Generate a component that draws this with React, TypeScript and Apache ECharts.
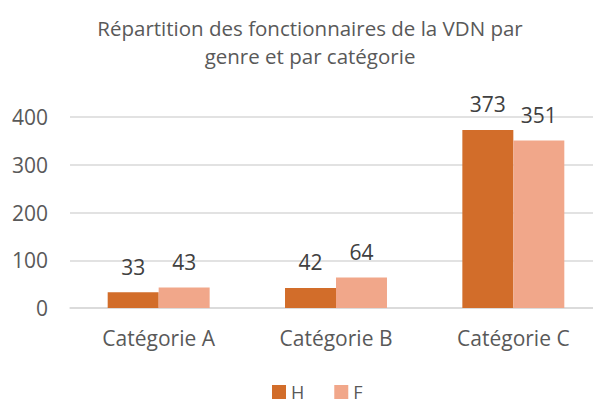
import React, { useEffect, useRef } from "react";
import * as echarts from "echarts";

const categories = ["Catégorie A", "Catégorie B", "Catégorie C"];
const seriesH = [33, 42, 373];
const seriesF = [43, 64, 351];
const titleText = "Répartition des fonctionnaires de la VDN par\ngenre et par catégorie";

export default function App() {
  const ref = useRef<HTMLDivElement>(null);
  useEffect(() => {
    if (!ref.current) return;
    const chart = echarts.init(ref.current, null, { renderer: "svg" });
    const font = "'Open Sans', 'Noto Sans', sans-serif";
    const labelStyle = {
      show: true,
      position: "top" as const,
      distance: 15,
      fontSize: 21,
      color: "#404040",
      fontFamily: font,
    };
    chart.setOption({
      animation: false,
      title: {
        text: titleText,
        left: 305,
        top: 9,
        textAlign: "center",
        textStyle: {
          fontSize: 20.5,
          fontWeight: "normal",
          color: "#595959",
          fontFamily: font,
          lineHeight: 28,
        },
      },
      legend: {
        data: ["H", "F"],
        top: 382,
        left: 272,
        padding: 0,
        itemWidth: 14,
        itemHeight: 14,
        itemGap: 30,
        icon: "rect",
        textStyle: { fontSize: 18, lineHeight: 20, color: "#595959", fontFamily: font },
      },
      grid: { left: 70, width: 532, top: 117, bottom: 95, outerBoundsMode: "none", containLabel: false },
      xAxis: {
        type: "category",
        data: categories,
        axisLine: { lineStyle: { color: "#d9d9d9", width: 1.5 } },
        axisTick: { show: false },
        axisLabel: { fontSize: 21, color: "#595959", fontFamily: font, margin: 19 },
      },
      yAxis: {
        type: "value",
        min: 0,
        max: 400,
        interval: 100,
        axisLine: { show: false },
        axisTick: { show: false },
        splitLine: { lineStyle: { color: "#d9d9d9", width: 1.5 } },
        axisLabel: { fontSize: 21, color: "#595959", fontFamily: font, margin: 22 },
      },
      series: [
        {
          name: "H",
          type: "bar",
          data: seriesH,
          itemStyle: { color: "#D26D2A" },
          barGap: "0%",
          barCategoryGap: "42.5%",
          label: labelStyle,
        },
        {
          name: "F",
          type: "bar",
          data: seriesF,
          itemStyle: { color: "#F1A78A" },
          barGap: "0%",
          barCategoryGap: "42.5%",
          label: labelStyle,
        },
      ],
    });
    return () => chart.dispose();
  }, []);
  return (
    <div
      ref={ref}
      style={{ position: "fixed", left: 0, top: 0, width: 593, height: 403, background: "#fff" }}
    />
  );
}
